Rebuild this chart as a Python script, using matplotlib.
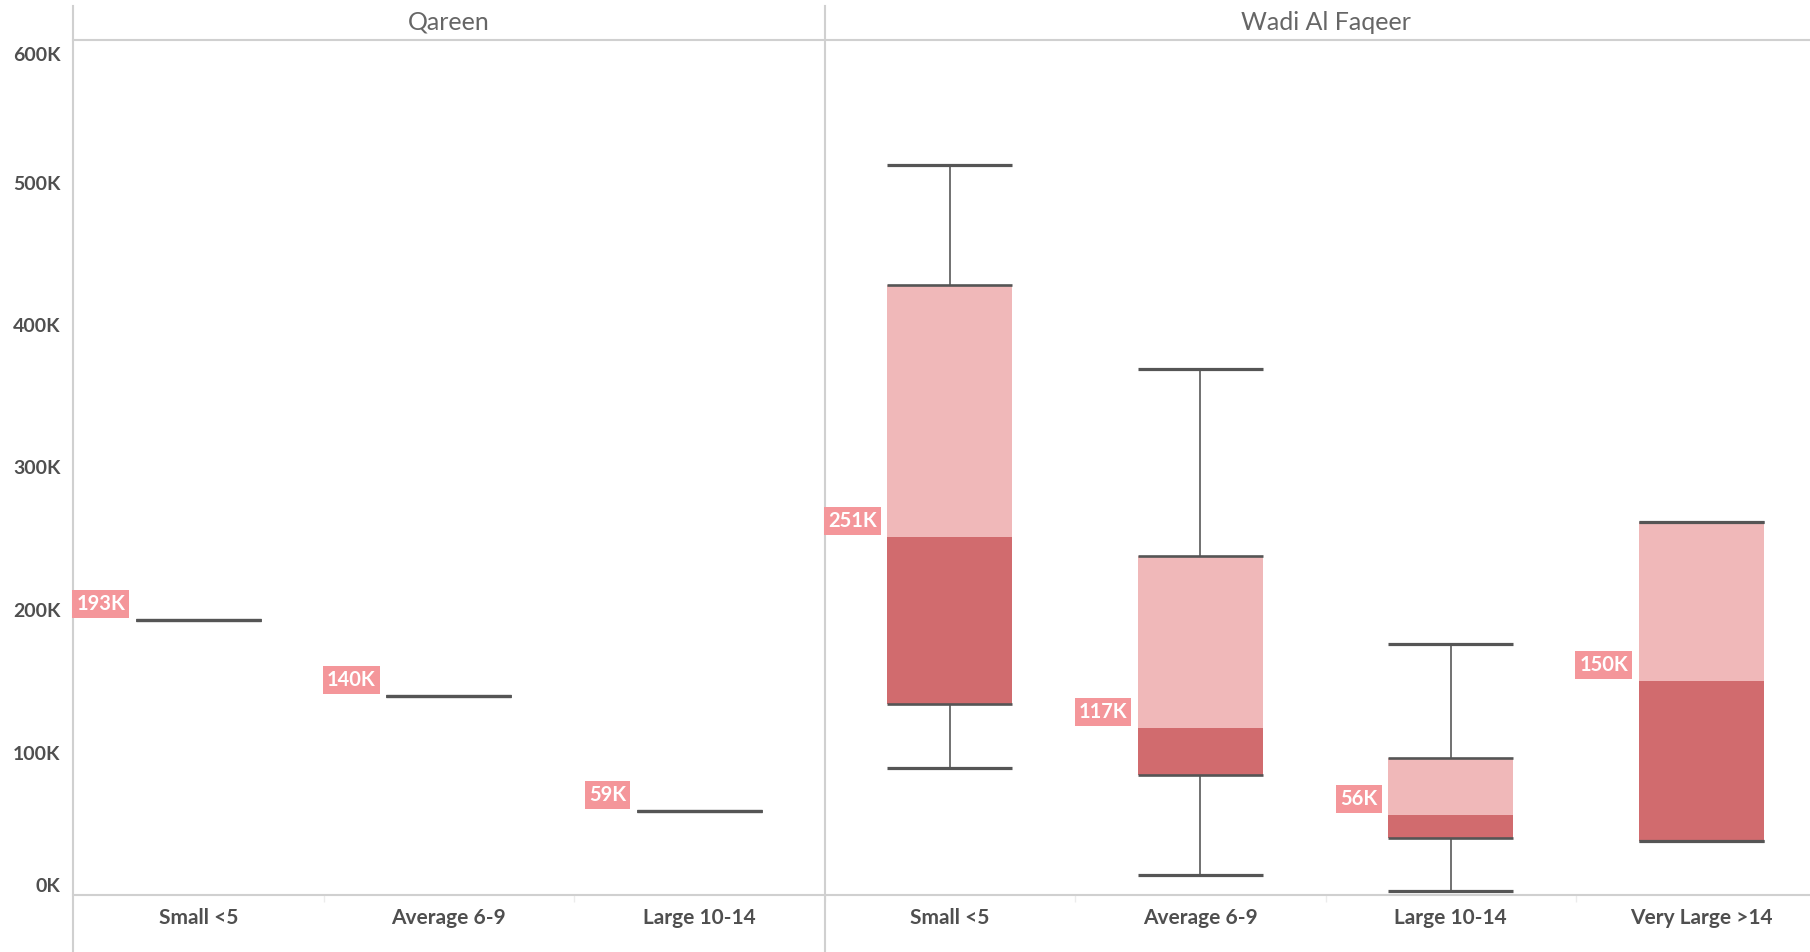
import matplotlib.pyplot as plt
from matplotlib.transforms import ScaledTranslation

plt.rcParams['font.family'] = ['Lato', 'DejaVu Sans']

# two panels, categories in drawing order
regions = ['Qareen', 'Wadi Al Faqeer']
region_sizes = [3, 4]
categories = ['Small <5', 'Average 6-9', 'Large 10-14',
              'Small <5', 'Average 6-9', 'Large 10-14', 'Very Large >14']

# box plot stats, in thousands
whisker_low = [193, 140, 59, 89, 14, 3, 38]
q1 = [193, 140, 59, 134, 84, 40, 38]
median = [193, 140, 59, 251, 117, 56, 150]
q3 = [193, 140, 59, 428, 238, 96, 262]
whisker_high = [193, 140, 59, 512, 369, 176, 262]

yticks = [0, 100, 200, 300, 400, 500, 600]

dark = '#d16b6e'
light = '#f0b8b9'
line_c = '#555555'
grid_c = '#d0d0d0'
text_c = '#4f4f4f'

fig = plt.figure(figsize=(18.1, 9.52), dpi=100)
ax = fig.add_axes([73 / 1810, 57 / 952, 7 * 250.5 / 1810, 855 / 952])

w = 0.5
for i in range(len(categories)):
    lo, a, m, b, hi = (v * 1000 for v in (whisker_low[i], q1[i], median[i], q3[i], whisker_high[i]))
    ax.bar(i, m - a, bottom=a, width=w, color=dark, zorder=2)
    ax.bar(i, b - m, bottom=m, width=w, color=light, zorder=2)
    ax.vlines(i, b, hi, color='#666666', lw=1.3, zorder=1)
    ax.vlines(i, lo, a, color='#666666', lw=1.3, zorder=1)
    ax.hlines([a, b], i - w / 2, i + w / 2, color=line_c, lw=1.9, zorder=3)
    ax.hlines([lo, hi], i - w / 2, i + w / 2, color=line_c, lw=2.3, zorder=3)
    ax.annotate(f'{median[i]}K', xy=(i - w / 2, m), xytext=(-7.5, 11.5),
                textcoords='offset points', ha='right', va='center',
                color='white', fontsize=14.5, fontweight='bold',
                bbox=dict(boxstyle='square,pad=0.2', fc='#f4969a', ec='none'),
                zorder=4)

ax.set_xlim(-0.5, 6.5)
ax.set_ylim(0, 598000)

ax.set_xticks(range(len(categories)))
ax.set_xticklabels(categories, fontsize=15, fontweight='bold', color=text_c)
ax.set_xticks([k + 0.5 for k in range(6)], minor=True)
ax.tick_params(axis='x', which='major', length=0, pad=9)
ax.tick_params(axis='x', which='minor', length=5, color='#ececec', width=1)

ax.set_yticks([t * 1000 for t in yticks])
ax.set_yticklabels([f'{t}K' for t in yticks], fontsize=14, fontweight='bold', color=text_c)
ax.tick_params(axis='y', length=0, pad=9)
ylabels = ax.get_yticklabels()
ylabels[0].set_verticalalignment('bottom')
ylabels[-1].set_verticalalignment('top')
ylabels[-1].set_transform(ylabels[-1].get_transform()
                          + ScaledTranslation(0, -7 / 100, fig.dpi_scale_trans))

for s in ['left', 'right']:
    ax.spines[s].set_visible(False)
ax.spines['top'].set_color(grid_c)
ax.spines['bottom'].set_color(grid_c)
ax.spines['top'].set_linewidth(1.5)
ax.spines['bottom'].set_linewidth(1.5)

# panel dividers run from the header to the bottom edge
start = -0.5
for n in region_sizes:
    ax.axvline(start, ymin=-57 / 855, ymax=(895 - 6) / 855, color=grid_c, lw=1.5, clip_on=False)
    start += n

# region headers
start = -0.5
for name, n in zip(regions, region_sizes):
    ax.text(start + n / 2, 1.0 + 18 / 855, name, transform=ax.get_xaxis_transform(),
            ha='center', va='center', fontsize=18, color='#666666')
    start += n

fig.savefig('out.png', dpi=100)
